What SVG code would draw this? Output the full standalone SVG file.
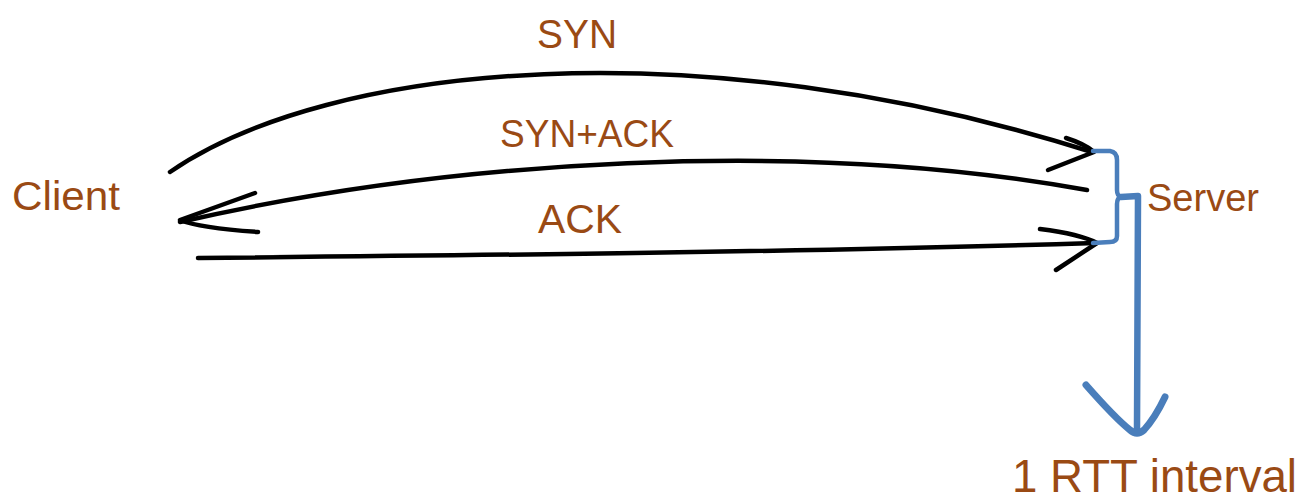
<svg xmlns="http://www.w3.org/2000/svg" width="1307" height="500" viewBox="0 0 1307 500">
<style>
.lbl{font-family:"Liberation Sans",Arial,sans-serif;fill:#9a4a14;}
.ln{fill:none;stroke:#000;stroke-width:4.5;stroke-linecap:round;stroke-linejoin:round;}
.bl{fill:none;stroke:#4a7ebb;stroke-linecap:round;stroke-linejoin:round;}
</style>
<rect width="1307" height="500" fill="#fff"/>
<g id="client"><text class="lbl" x="12" y="210" font-size="40" textLength="108" lengthAdjust="spacingAndGlyphs">Client</text></g>
<g id="server"><text class="lbl" x="1147" y="211" font-size="38" textLength="112" lengthAdjust="spacingAndGlyphs">Server</text></g>
<g id="rtt"><text class="lbl" x="1012" y="492" font-size="47" textLength="285" lengthAdjust="spacingAndGlyphs">1 RTT interval</text></g>
<g id="connectors">
<path class="ln" d="M170,172 C330,62 700,28 1092,152"/>
<path class="ln" d="M1066,138 Q1085,144 1094,152 L1048,170"/>
<text class="lbl" x="577" y="48" font-size="40" text-anchor="middle" textLength="80" lengthAdjust="spacingAndGlyphs">SYN</text>
<path class="ln" d="M1087,190 C800,138 450,160 180,222"/>
<path class="ln" d="M255,193 L180,220 Q200,228 258,232"/>
<text class="lbl" x="587" y="147" font-size="39" text-anchor="middle" textLength="174" lengthAdjust="spacingAndGlyphs">SYN+ACK</text>
<path class="ln" d="M198,258 C500,255 800,252 1095,243"/>
<path class="ln" d="M1040,229 Q1080,234 1097,243 L1056,270"/>
<text class="lbl" x="580" y="233" font-size="40" text-anchor="middle" textLength="84" lengthAdjust="spacingAndGlyphs">ACK</text>
<path class="bl" stroke-width="4.5" d="M1093,151 L1110,151 Q1117,152 1117,160 L1117,190 Q1117,196 1121,197 Q1117,198 1117,204 L1117,236 Q1117,242 1110,242 L1093,243"/>
<path class="bl" stroke-width="6.5" d="M1121,197 L1138,196 L1137,428"/>
<path class="bl" stroke-width="7" d="M1086,385 Q1115,418 1130,430 Q1137,436 1144,430 Q1155,418 1165,397"/>
</g>
</svg>
